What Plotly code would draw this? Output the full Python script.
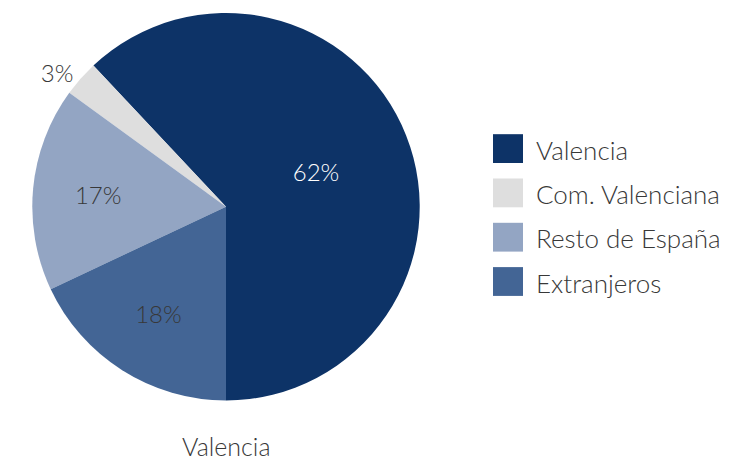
import plotly.graph_objects as go

labels = ["Valencia", "Com. Valenciana", "Resto de España", "Extranjeros"]
values = [62, 3, 17, 18]
colors = ["#0d3367", "#dedede", "#93a5c3", "#436595"]
text_colors = ["#ffffff", "#383838", "#383838", "#383838"]
text_pos = ["inside", "outside", "inside", "inside"]
title = "Valencia"

# page body has an 8px margin: the figure is drawn at (8, 8)
OFF = 8
FW, FH = 726, 456
cx, cy, r = 226, 205, 195
FONT = "Lato"
TXT = "#383838"


def px(x):
    return (x - OFF) / FW


def py(y):
    return 1 - (y - OFF) / FH


fig = go.Figure()
fig.add_trace(go.Pie(
    labels=labels, values=values, sort=False, direction="counterclockwise",
    rotation=180 - values[0] / sum(values) * 360,
    marker=dict(colors=colors, line=dict(width=0)),
    textinfo="percent", texttemplate="%{percent:.0%}",
    textposition=text_pos, insidetextorientation="horizontal",
    textfont=dict(color=text_colors, size=24, family=FONT, weight=300),
    outsidetextfont=dict(color=TXT, size=24, family=FONT, weight=300),
    domain=dict(x=[px(cx - r), px(cx + r)], y=[py(cy + r), py(cy - r)]),
    showlegend=False, hoverinfo="label+percent",
))

shapes = []
annotations = []
y0 = 146.5
step = 44.6
for i, (lab, col) in enumerate(zip(labels, colors)):
    yc = y0 + i * step
    shapes.append(dict(type="rect", xref="paper", yref="paper",
                       x0=px(493), x1=px(523),
                       y0=py(yc + 14.5), y1=py(yc - 14.5),
                       fillcolor=col, line=dict(width=0)))
    annotations.append(dict(text=lab, xref="paper", yref="paper",
                            x=px(534), y=py(yc + 1), xanchor="left", yanchor="middle",
                            showarrow=False, font=dict(size=26, family=FONT, weight=300, color=TXT)))

annotations.append(dict(text=title, xref="paper", yref="paper", x=px(cx), y=py(446),
                        xanchor="center", yanchor="middle", showarrow=False,
                        font=dict(size=25, family=FONT, weight=300, color=TXT)))

fig.update_layout(width=FW, height=FH, margin=dict(l=0, r=0, t=0, b=0),
                  paper_bgcolor="white", plot_bgcolor="white",
                  shapes=shapes, annotations=annotations,
                  font=dict(family=FONT, color=TXT))
fig.write_html("out.html")
